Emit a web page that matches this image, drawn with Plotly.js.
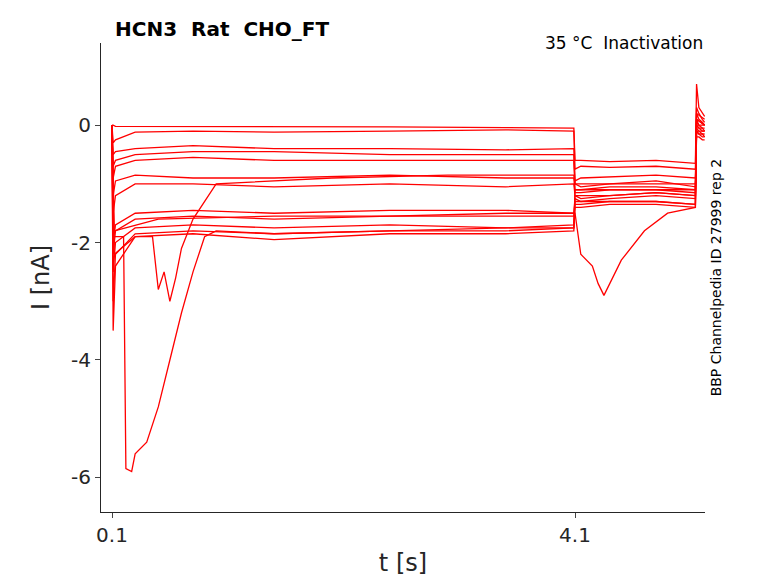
<!DOCTYPE html>
<html><head><script src="https://cdn.plot.ly/plotly-3.0.1.min.js"></script></head>
<body style="margin:0"><div id="g" style="width:778px;height:583px"></div>
<script>
const tStd=[0.1,0.11,0.13,0.3,0.8,1.5,2.5,3.5,4.09,4.1,4.15,4.4,4.8,5.14,5.15,5.17,5.2,5.22];
const sA=[0,0,-0.02,-0.02,-0.03,-0.03,-0.03,-0.04,-0.05,-0.6,-0.6,-0.62,-0.6,-0.65,0.7,0.3,0.2,0.15];
const sB=[0,-0.3,-0.25,-0.12,-0.1,-0.12,-0.1,-0.08,-0.1,-0.75,-0.7,-0.72,-0.7,-0.75,0.3,0.2,0.1,0.05];
const sC=[0,-0.5,-0.45,-0.4,-0.35,-0.4,-0.4,-0.42,-0.4,-0.95,-0.9,-0.88,-0.85,-0.9,0.0,-0.05,-0.1,-0.1];
const sD=[0,-0.7,-0.6,-0.5,-0.45,-0.45,-0.5,-0.5,-0.5,-1.0,-1.05,-1.0,-0.95,-1.05,-0.1,-0.15,-0.15,-0.2];
const sE=[0,-0.9,-0.7,-0.6,-0.55,-0.6,-0.6,-0.6,-0.6,-1.1,-1.1,-1.05,-1.05,-1.1,-0.2,-0.2,-0.25,-0.25];
const sF=[0,-1.2,-0.95,-0.85,-0.9,-0.9,-0.85,-0.9,-0.9,-1.15,-1.15,-1.1,-1.1,-1.15,0.1,0,0,0];
const sG=[0,-1.5,-1.2,-1.0,-1.0,-1.05,-1.0,-1.05,-1.0,-1.2,-1.2,-1.2,-1.15,-1.2,-0.1,-0.1,-0.15,-0.15];
const sH=[0,-2.0,-1.7,-1.5,-1.45,-1.5,-1.45,-1.45,-1.5,-1.25,-1.3,-1.25,-1.2,-1.25,0.2,0.1,0.05,0];
const sI=[0,-2.2,-1.8,-1.6,-1.55,-1.6,-1.55,-1.55,-1.55,-1.3,-1.3,-1.3,-1.3,-1.35,0.05,0,-0.05,-0.05];
const sJ=[0,-2.5,-2.0,-1.75,-1.7,-1.75,-1.7,-1.75,-1.7,-1.35,-1.35,-1.3,-1.3,-1.35,-0.05,-0.1,-0.1,-0.1];
const sK=[0,-3.0,-2.2,-1.85,-1.8,-1.85,-1.8,-1.8,-1.75,-1.4,-1.4,-1.35,-1.35,-1.4,-0.1,-0.15,-0.2,-0.2];
const sL=[0,-3.5,-2.4,-1.9,-1.85,-1.95,-1.85,-1.85,-1.8,-1.2,-1.25,-1.2,-1.15,-1.2,0,-0.05,-0.05,-0.1];
const tM=[0.1,0.11,0.2,0.22,0.27,0.3,0.4,0.5,0.6,0.7,0.8,0.9,1.0,1.5,2.5,3.5,4.09,4.1,4.5,5.14,5.15,5.22];
const sM=[0,-1.9,-1.9,-5.85,-5.9,-5.6,-5.4,-4.8,-4.0,-3.2,-2.5,-1.9,-1.8,-1.85,-1.8,-1.75,-1.75,-1.1,-1.1,-1.1,0.1,0];
const tN=[0.1,0.12,0.5,1.5,2.5,3.5,4.09,4.1,4.15,4.25,4.3,4.35,4.5,4.7,4.9,5.14,5.15,5.22];
const sN=[0,-1.8,-1.6,-1.55,-1.55,-1.5,-1.5,-1.5,-2.2,-2.4,-2.7,-2.9,-2.3,-1.8,-1.5,-1.4,0.2,0.1];
const tO=[0.1,0.12,0.3,0.45,0.5,0.55,0.6,0.65,0.7,0.8,1.0,2,3,4.09,4.1,5.14,5.15,5.22];
const sO=[0,-2.2,-1.9,-1.9,-2.8,-2.5,-3.0,-2.6,-2.1,-1.6,-1.0,-0.9,-0.85,-0.85,-1.0,-1.0,0.1,0];
const series=[[tStd,sA],[tStd,sB],[tStd,sC],[tStd,sD],[tStd,sE],[tStd,sF],[tStd,sG],[tStd,sH],[tStd,sI],[tStd,sJ],[tStd,sK],[tStd,sL],[tM,sM],[tN,sN],[tO,sO]];
const data=series.map(([x,y])=>({x,y,mode:'lines',line:{color:'#ff0000',width:1.3},hoverinfo:'skip'}));
const f='DejaVu Sans, sans-serif';
Plotly.newPlot('g',data,{
 width:778,height:583,showlegend:false,paper_bgcolor:'#fff',plot_bgcolor:'#fff',
 margin:{l:101,r:73,t:43,b:71},
 font:{family:f,color:'#262626'},
 xaxis:{range:[0.005,5.223],tickvals:[0.1,4.1],ticktext:['0.1','4.1'],showgrid:false,zeroline:false,showline:true,linecolor:'#262626',ticks:'outside',ticklen:5,tickfont:{size:20},title:{text:'t [s]',font:{size:24},standoff:8}},
 yaxis:{range:[-6.59,1.4],tickvals:[0,-2,-4,-6],ticktext:['0','-2','-4','-6'],showgrid:false,zeroline:false,showline:true,linecolor:'#262626',ticks:'outside',ticklen:5,tickfont:{size:20},title:{text:'I [nA]',font:{size:24},standoff:14}},
 annotations:[
  {text:'<b>HCN3  Rat  CHO_FT</b>',xref:'paper',yref:'paper',x:0.02,y:1.0,xanchor:'left',yanchor:'bottom',showarrow:false,font:{size:20,color:'#000'}},
  {text:'35 °C  Inactivation',xref:'paper',yref:'paper',x:1,y:0.975,xanchor:'right',yanchor:'bottom',showarrow:false,font:{size:17,color:'#000'}},
  {text:'BBP Channelpedia ID 27999 rep 2',xref:'paper',yref:'paper',x:1.018,y:0.5,xanchor:'center',yanchor:'middle',textangle:-90,showarrow:false,font:{size:14,color:'#000'}}
 ]
},{displayModeBar:false});
</script></body></html>
